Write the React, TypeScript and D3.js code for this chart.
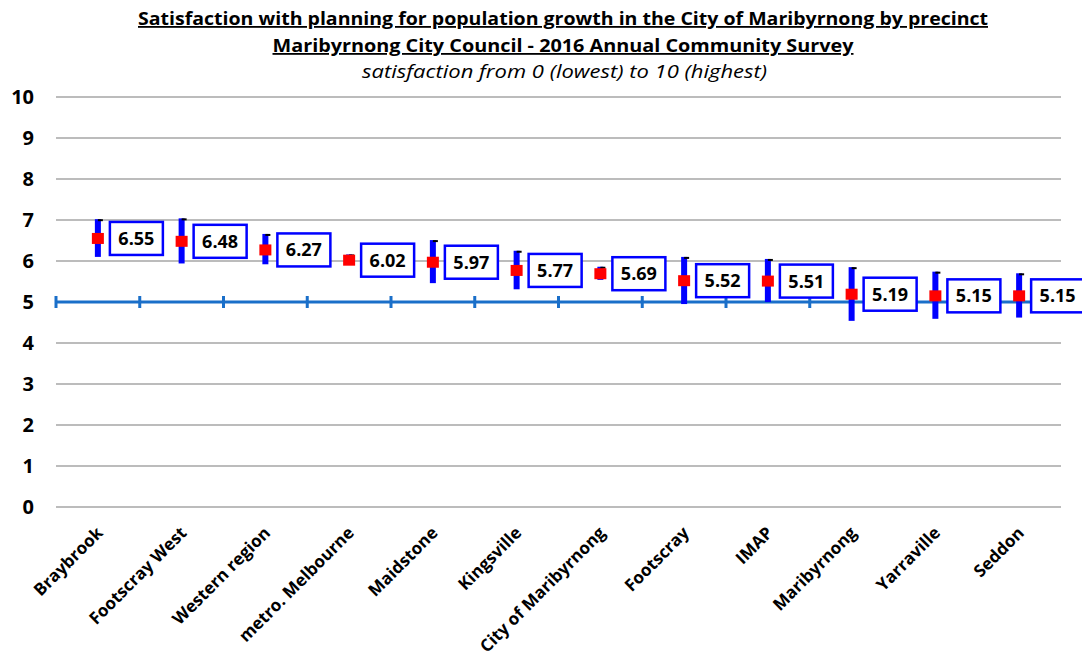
import React from "react";
import * as d3 from "d3";

const categories = [
  "Braybrook",
  "Footscray West",
  "Western region",
  "metro. Melbourne",
  "Maidstone",
  "Kingsville",
  "City of Maribyrnong",
  "Footscray",
  "IMAP",
  "Maribyrnong",
  "Yarraville",
  "Seddon",
];
const means = [6.55, 6.48, 6.27, 6.02, 5.97, 5.77, 5.69, 5.52, 5.51, 5.19, 5.15, 5.15];
const lower = [6.1, 5.94, 5.92, 5.92, 5.46, 5.31, 5.54, 4.95, 5.0, 4.54, 4.59, 4.62];
const upper = [7.02, 7.04, 6.66, 6.16, 6.51, 6.25, 5.86, 6.1, 6.05, 5.85, 5.74, 5.7];
const yTicks = [0, 1, 2, 3, 4, 5, 6, 7, 8, 9, 10];
const benchmark = 5;

const W = 1082;
const H = 657;
const left = 56;
const right = 1061;
const top = 97;
const bottom = 507;
const font = "'Open Sans', 'Noto Sans', sans-serif";

export default function App() {
  const x = d3.scaleBand().domain(categories).range([left, right]);
  const y = d3.scaleLinear().domain([0, 10]).range([bottom, top]);
  const cx = (c: string) => (x(c) ?? 0) + x.bandwidth() / 2;
  const bounds = d3.range(categories.length).map((i) => left + i * x.step());

  return (
    <svg width={W} height={H} style={{ position: "absolute", left: 0, top: 0, background: "#fff" }}>
      <g fontFamily={font} textAnchor="middle">
        <text
          x={563}
          y={25}
          fontSize={18}
          fontWeight="bold"
          textDecoration="underline"
          textLength={850}
          lengthAdjust="spacingAndGlyphs"
        >
          Satisfaction with planning for population growth in the City of Maribyrnong by precinct
        </text>
        <text
          x={563}
          y={52}
          fontSize={18}
          fontWeight="bold"
          textDecoration="underline"
          textLength={581}
          lengthAdjust="spacingAndGlyphs"
        >
          Maribyrnong City Council - 2016 Annual Community Survey
        </text>
        <text
          x={564.5}
          y={78}
          fontSize={18.5}
          fontStyle="italic"
          textLength={405}
          lengthAdjust="spacingAndGlyphs"
        >
          satisfaction from 0 (lowest) to 10 (highest)
        </text>
      </g>

      {/* gridlines + y labels */}
      {yTicks.map((t) => (
        <g key={t}>
          <line x1={left} x2={right} y1={y(t)} y2={y(t)} stroke="#a6a6a6" strokeWidth={1.5} />
          <text
            x={34}
            y={y(t)}
            dy="0.36em"
            textAnchor="end"
            fontFamily={font}
            fontSize={20}
            fontWeight="bold"
          >
            {t}
          </text>
        </g>
      ))}

      {/* benchmark line at 5 */}
      <line x1={left} x2={1079} y1={y(benchmark)} y2={y(benchmark)} stroke="#1a6fc9" strokeWidth={3} />
      {bounds.map((b, i) => (
        <line
          key={i}
          x1={b}
          x2={b}
          y1={y(benchmark) - 6}
          y2={y(benchmark) + 6}
          stroke="#1a6fc9"
          strokeWidth={3}
        />
      ))}

      {/* error bars, points, labels */}
      {categories.map((c, i) => {
        const px = cx(c);
        const py = y(means[i]);
        return (
          <g key={c}>
            <rect
              x={px - 3}
              y={y(upper[i])}
              width={6}
              height={y(lower[i]) - y(upper[i])}
              fill="#0000ff"
            />
            <line
              x1={px}
              x2={px + 5}
              y1={y(upper[i]) + 1}
              y2={y(upper[i]) + 1}
              stroke="#000"
              strokeWidth={2}
            />
            <rect x={px - 6} y={py - 5.5} width={12} height={11} fill="#ff0000" />
            <rect
              x={px + 12}
              y={py - 16.5}
              width={53}
              height={33}
              fill="#fff"
              stroke="#0000ff"
              strokeWidth={2.5}
            />
            <text
              x={px + 38.5}
              y={py}
              dy="0.36em"
              textAnchor="middle"
              fontFamily={font}
              fontSize={18}
              fontWeight="bold"
            >
              {means[i].toFixed(2)}
            </text>
            <text
              transform={`translate(${px + 6},${bottom + 27}) rotate(-45)`}
              textAnchor="end"
              fontFamily={font}
              fontSize={17}
              fontWeight="bold"
            >
              {c}
            </text>
          </g>
        );
      })}
    </svg>
  );
}
